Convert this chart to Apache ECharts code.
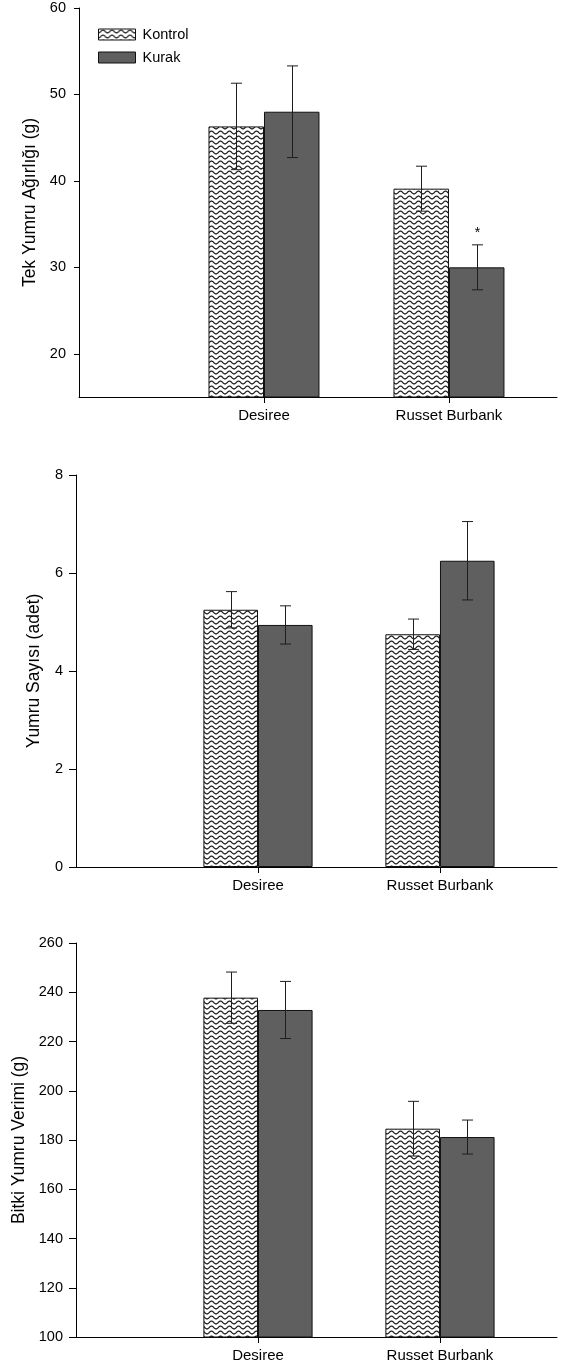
<!DOCTYPE html>
<html>
<head>
<meta charset="utf-8">
<script src="https://cdn.jsdelivr.net/npm/echarts@6/dist/echarts.min.js"></script>
<style>
  html, body { margin: 0; padding: 0; background: #fff; }
  #chart { width: 572px; height: 1366px; }
</style>
</head>
<body>
<div id="chart"></div>
<script>
// Cultivars and treatments
const categories = ['Desiree', 'Russet Burbank'];
const seriesNames = ['Kontrol', 'Kurak'];

// Tek yumru ağırlığı (g): mean and standard error
const weightKontrol = [46.3, 39.1];
const weightKontrolErr = [5.0, 2.6];
const weightKurak = [48.0, 30.0];
const weightKurakErr = [5.3, 2.6];
const weightKurakSig = ['', '*'];

// Yumru sayısı (adet)
const countKontrol = [5.25, 4.75];
const countKontrolErr = [0.37, 0.31];
const countKurak = [4.94, 6.25];
const countKurakErr = [0.39, 0.80];

// Bitki yumru verimi (g)
const yieldKontrol = [237.8, 184.6];
const yieldKontrolErr = [10.4, 11.1];
const yieldKurak = [232.8, 181.2];
const yieldKurakErr = [11.6, 6.9];

// Axis tick values
const weightTicks = [20, 30, 40, 50, 60];
const countTicks = [0, 2, 4, 6, 8];
const yieldTicks = [100, 120, 140, 160, 180, 200, 220, 240, 260];

const FONT = '"Liberation Sans", Arial, sans-serif';

// Wavy hatch used for the Kontrol bars
function makeWave() {
  const c = document.createElement('canvas');
  c.width = 9; c.height = 5;
  const ctx = c.getContext('2d');
  ctx.fillStyle = '#ffffff';
  ctx.fillRect(0, 0, 9, 5);
  ctx.strokeStyle = '#1e1e1e';
  ctx.lineWidth = 1.15;
  ctx.beginPath();
  for (let x = -1; x <= 10; x += 0.5) {
    const y = 2.5 + 1.45 * Math.cos(2 * Math.PI * x / 9);
    if (x === -1) ctx.moveTo(x, y); else ctx.lineTo(x, y);
  }
  ctx.stroke();
  return c;
}
const wavePattern = { image: makeWave(), repeat: 'repeat' };
const kurakColor = '#5f5f5f';
const edgeColor = '#111111';

const grids = [
  { left: 79, top: 8, width: 478, height: 389 },
  { left: 76, top: 475, width: 481, height: 392 },
  { left: 76, top: 943, width: 481, height: 394 }
];

function xAxisFor(gi, max) {
  return {
    type: 'value', gridIndex: gi, min: 0, max: max,
    splitLine: { show: false },
    axisLine: { show: true, onZero: false, lineStyle: { color: '#000', width: 1 } },
    axisTick: { show: true, customValues: [1, 2], length: 6, lineStyle: { color: '#000' } },
    axisLabel: {
      customValues: [1, 2], margin: 11, fontSize: 15, color: '#000', fontFamily: FONT,
      formatter: v => categories[Math.round(v) - 1] || ''
    }
  };
}

function yAxisFor(gi, min, max, ticks, name, gap, tickLen) {
  return {
    type: 'value', gridIndex: gi, min: min, max: max,
    name: name, nameLocation: 'middle', nameRotate: 90, nameGap: gap,
    nameTextStyle: { fontSize: 17.5, color: '#000', fontFamily: FONT },
    splitLine: { show: false },
    axisLine: { show: true, onZero: false, lineStyle: { color: '#000', width: 1 } },
    axisTick: { show: true, customValues: ticks, length: tickLen, lineStyle: { color: '#000' } },
    axisLabel: { customValues: ticks, margin: 13, fontSize: 14.5, color: '#000', fontFamily: FONT }
  };
}

function barSeries(name, gi, values) {
  return {
    type: 'bar', name: name, xAxisIndex: gi, yAxisIndex: gi,
    data: values.map((v, i) => [i + 1, v]),
    barWidth: '30%', barGap: '0%',
    itemStyle: {
      color: name === 'Kontrol' ? wavePattern : kurakColor,
      borderColor: edgeColor, borderWidth: 1
    },
    emphasis: { disabled: true },
    z: 2
  };
}

function errorSeries(name, gi, values, errs, sig) {
  const side = name === 'Kontrol' ? -0.5 : 0.5;
  return {
    type: 'custom', name: name, xAxisIndex: gi, yAxisIndex: gi,
    data: values.map((v, i) => [i + 1, v, errs[i]]),
    z: 5, silent: true,
    renderItem: function (params, api) {
      const x = api.value(0), m = api.value(1), e = api.value(2);
      const bw = api.size([0.3, 0])[0];
      const top = api.coord([x, m + e]);
      const bot = api.coord([x, m - e]);
      const cx = Math.round(top[0] + side * bw) + 0.5;
      const cap = 5.5;
      const ls = { stroke: '#1e1e1e', lineWidth: 1 };
      const children = [
        { type: 'line', shape: { x1: cx, y1: top[1], x2: cx, y2: bot[1] }, style: ls },
        { type: 'line', shape: { x1: cx - cap, y1: top[1], x2: cx + cap, y2: top[1] }, style: ls },
        { type: 'line', shape: { x1: cx - cap, y1: bot[1], x2: cx + cap, y2: bot[1] }, style: ls }
      ];
      const s = sig ? sig[params.dataIndex] : '';
      if (s) {
        children.push({
          type: 'text',
          style: { text: s, x: cx, y: top[1] - 12, align: 'center', verticalAlign: 'middle',
                   fontSize: 14, fill: '#000', fontFamily: FONT }
        });
      }
      return { type: 'group', children: children };
    }
  };
}

const chart = echarts.init(document.getElementById('chart'), null, { renderer: 'canvas' });
chart.setOption({
  animation: false,
  backgroundColor: '#ffffff',
  grid: grids.map(g => Object.assign({ containLabel: false }, g)),
  legend: {
    data: seriesNames.map(n => ({ name: n, icon: 'rect' })),
    orient: 'vertical', left: 98, top: 27, padding: 0,
    itemWidth: 37, itemHeight: 11, itemGap: 8,
    selectedMode: false,
    textStyle: { fontSize: 14.5, color: '#000', fontFamily: FONT, padding: [0, 0, 0, 2] },
    itemStyle: { borderColor: edgeColor, borderWidth: 1 }
  },
  xAxis: [xAxisFor(0, 2.584), xAxisFor(1, 2.643), xAxisFor(2, 2.643)],
  yAxis: [
    yAxisFor(0, 15, 60, weightTicks, 'Tek Yumru Ağırlığı (g)', 35, 5),
    yAxisFor(1, 0, 8, countTicks, 'Yumru Sayısı (adet)', 33, 7),
    yAxisFor(2, 100, 260, yieldTicks, 'Bitki Yumru Verimi (g)', 45, 7)
  ],
  series: [
    barSeries('Kontrol', 0, weightKontrol),
    barSeries('Kurak', 0, weightKurak),
    errorSeries('Kontrol', 0, weightKontrol, weightKontrolErr),
    errorSeries('Kurak', 0, weightKurak, weightKurakErr, weightKurakSig),
    barSeries('Kontrol', 1, countKontrol),
    barSeries('Kurak', 1, countKurak),
    errorSeries('Kontrol', 1, countKontrol, countKontrolErr),
    errorSeries('Kurak', 1, countKurak, countKurakErr),
    barSeries('Kontrol', 2, yieldKontrol),
    barSeries('Kurak', 2, yieldKurak),
    errorSeries('Kontrol', 2, yieldKontrol, yieldKontrolErr),
    errorSeries('Kurak', 2, yieldKurak, yieldKurakErr)
  ]
});
</script>
</body>
</html>
